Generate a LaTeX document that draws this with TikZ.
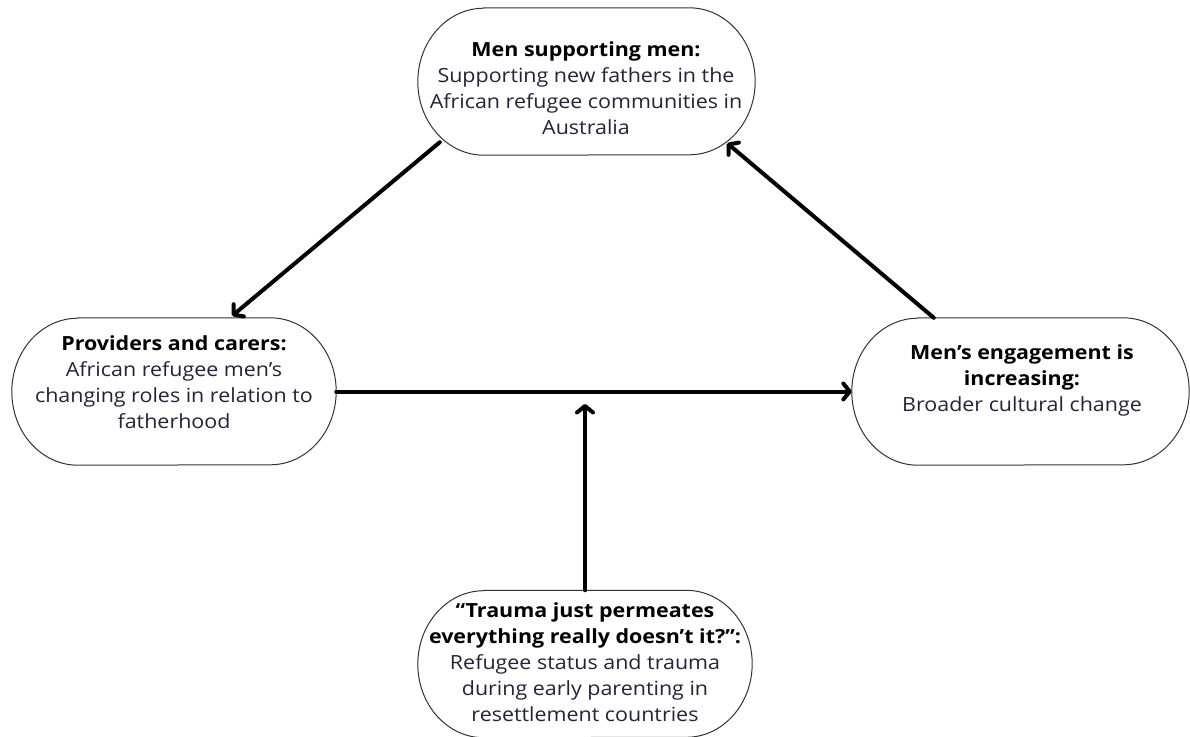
\documentclass[tikz,border=0pt]{standalone}
\usepackage{fontspec}
\setmainfont{Open Sans}[FakeStretch=1.1]
\usetikzlibrary{arrows.meta,calc}
\definecolor{txt}{HTML}{23233A}
\newcommand\stadiumoutline[1]{%
  \draw[outline] ([xshift=66pt]#1.north west) -- ([xshift=-66pt]#1.north east)
    arc(-90:90:66 and 73.5) -- ([xshift=66pt]#1.south west)
    arc(90:270:66 and 73.5) -- cycle;}
\begin{document}
\begin{tikzpicture}[x=1pt,y=-1pt,
  box/.style={draw=none, inner sep=0pt, minimum height=147pt},
  outline/.style={draw=black!80, line width=1pt, fill=white},
  lbl/.style={align=center, text=txt, inner sep=0pt, font=\fontsize{19.5}{26}\selectfont},
  flow/.style={line width=4pt, line cap=round, line join=round, -{Straight Barb[length=6.5pt,width=16pt,round]}}]
\useasboundingbox (0,0) rectangle (1190,736);
\fill[white] (0,0) rectangle (1190,736);
% boxes
\node[box, minimum width=337pt] (T) at (586.5,81.5) {};
\node[box, minimum width=324pt] (L) at (174,391.5) {};
\node[box, minimum width=337pt] (R) at (1020.5,391.5) {};
\node[box, minimum width=334pt] (B) at (585,664) {};
\stadiumoutline{T}
\stadiumoutline{L}
\stadiumoutline{R}
\stadiumoutline{B}
% texts
\node[lbl] (Tt) at (586,88) {\textbf{\color{black}Men supporting men:}\\ Supporting new fathers in the\\African refugee communities in\\Australia};
\node[lbl] (Lt) at (174,382.5) {\textbf{\color{black}Providers and carers:}\\African refugee men’s\\changing roles in relation to\\fatherhood};
\node[lbl] (Rt) at (1022,380) {\textbf{\color{black}Men’s engagement is}\\\textbf{\color{black}increasing:}\\Broader cultural change};
\node[lbl] (Bt) at (585,662) {\textbf{\color{black}“Trauma just permeates}\\\textbf{\color{black}everything really doesn’t it?”:}\\Refugee status and trauma\\during early parenting in\\resettlement countries};
% connectors
\coordinate (hit) at (585,404);
\draw[flow] ([shift={(22,-13)}]T.south west) -- ([shift={(-104,-2)}]L.north east);
\draw[flow] ([shift={(82,0)}]R.north west) -- ([shift={(-28,-12)}]T.south east);
\draw[flow] (L.east) -- (R.west);
\draw[flow] (B.north) -- (hit);
\end{tikzpicture}
\end{document}
